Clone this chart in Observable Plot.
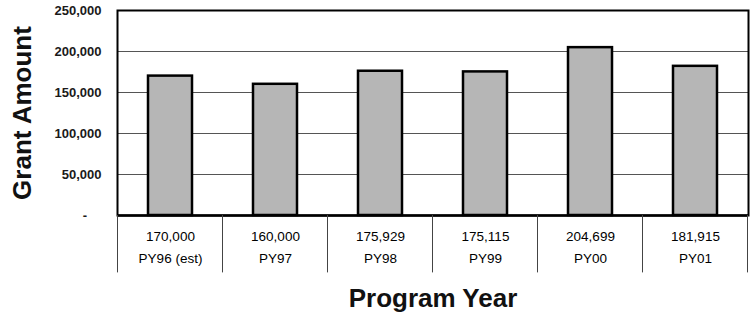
<!DOCTYPE html>
<html>
<head>
<meta charset="utf-8">
<script src="https://cdn.jsdelivr.net/npm/d3@7"></script>
<script src="https://cdn.jsdelivr.net/npm/@observablehq/plot@0.6"></script>
<style>
  body { margin: 0; background: #fff; }
  svg { display: block; }
  g[aria-label="y-axis tick label"] { font-weight: bold; fill: #1a1a1a; font-size: 13px; }
</style>
</head>
<body>
<div id="chart"></div>
<script>
// Grant amounts by program year
const years = ["PY96 (est)", "PY97", "PY98", "PY99", "PY00", "PY01"];
const grants = [170000, 160000, 175929, 175115, 204699, 181915];
const yTicks = [0, 50000, 100000, 150000, 200000, 250000];
const tableBottom = -70000; // depth of the data table under the axis, in y units

const rows = years.map((year, i) => ({year, grant: grants[i]}));
const fmt = d3.format(",");

const plot = Plot.plot({
  width: 751,
  height: 321,
  marginLeft: 117,
  marginRight: 3,
  marginTop: 10,
  marginBottom: 106,
  style: {fontFamily: "'Liberation Sans', Arial, sans-serif", fontSize: "13px", background: "#fff", color: "#000"},
  x: {domain: years, paddingInner: 0.58, paddingOuter: 0.29, axis: null},
  y: {
    domain: [0, 250000],
    ticks: yTicks,
    tickSize: 0,
    tickPadding: 16,
    label: null,
    tickFormat: d => d === 0 ? "-\u2007\u2007" : fmt(d)
  },
  marks: [
    Plot.ruleY(yTicks.slice(1, -1), {stroke: "#555", strokeWidth: 1}),
    Plot.barY(rows, {x: "year", y: "grant", fill: "#b6b6b6", stroke: "#000", strokeWidth: 2.5}),
    Plot.frame({stroke: "#000", strokeWidth: 2}),
    Plot.ruleY([0], {stroke: "#000", strokeWidth: 2.5}),
    // data table under the axis
    Plot.text(rows, {x: "year", text: d => fmt(d.grant), frameAnchor: "bottom", lineAnchor: "middle", dy: 21, fontSize: 13.5}),
    Plot.text(rows, {x: "year", text: "year", frameAnchor: "bottom", lineAnchor: "middle", dy: 43, fontSize: 13.5}),
    // axis titles
    Plot.text(["Grant Amount"], {frameAnchor: "left", dx: -95, rotate: -90, textAnchor: "middle", fontSize: 26, fontWeight: "bold", fill: "#111"}),
    Plot.text(["Program Year"], {frameAnchor: "bottom", lineAnchor: "middle", dy: 83, fontSize: 26, fontWeight: "bold", fill: "#111"})
  ]
});

// vertical cell dividers of the data table, placed with the plot's own scales
const xs = plot.scale("x");
const ys = plot.scale("y");
const gap = xs.step - xs.bandwidth;
const edges = years.map(y => xs.apply(y) - gap / 2);
edges.push(xs.apply(years[years.length - 1]) + xs.bandwidth + gap / 2);
d3.select(plot).append("g")
  .attr("stroke", "#444")
  .attr("stroke-width", 1)
  .selectAll("line")
  .data(edges)
  .join("line")
  .attr("x1", d => d).attr("x2", d => d)
  .attr("y1", ys.apply(0)).attr("y2", ys.apply(tableBottom));

document.getElementById("chart").appendChild(plot);
</script>
</body>
</html>
